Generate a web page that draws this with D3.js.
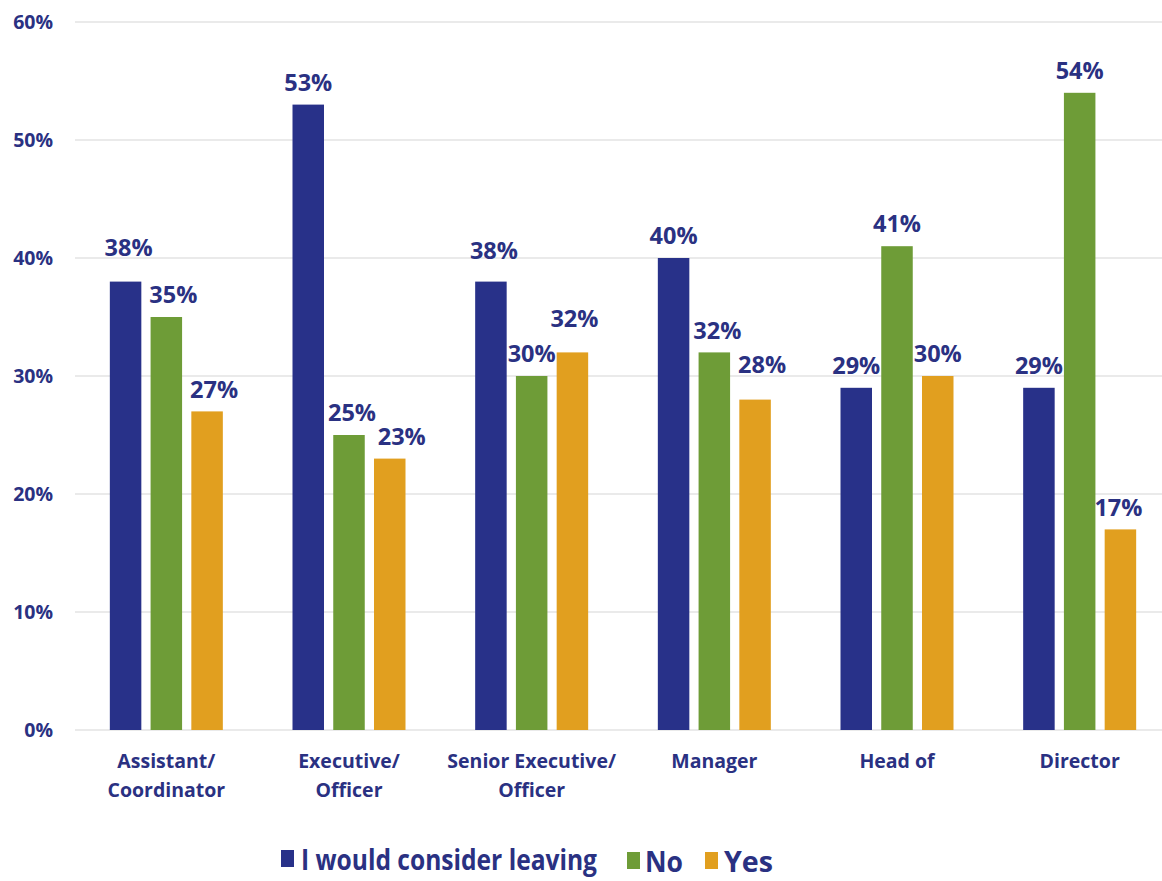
<!DOCTYPE html>
<html>
<head>
<meta charset="utf-8">
<script src="https://cdn.jsdelivr.net/npm/d3@7"></script>
<style>
  html, body { margin: 0; padding: 0; background: #ffffff; }
  svg { display: block; font-family: "Open Sans", "Noto Sans", sans-serif; }
</style>
</head>
<body>
<svg id="chart" width="1162" height="881"></svg>
<script>
// ---- data ----
const categories = ["Assistant/\nCoordinator", "Executive/\nOfficer", "Senior Executive/\nOfficer", "Manager", "Head of", "Director"];
const seriesNames = ["I would consider leaving", "No", "Yes"];
const considerLeaving = [0.38, 0.53, 0.38, 0.40, 0.29, 0.29];
const noValues        = [0.35, 0.25, 0.30, 0.32, 0.41, 0.54];
const yesValues       = [0.27, 0.23, 0.32, 0.28, 0.30, 0.17];
const yTicks = [0, 0.1, 0.2, 0.3, 0.4, 0.5, 0.6];
const yTickLabels = ["0%", "10%", "20%", "30%", "40%", "50%", "60%"];

// ---- style / layout ----
const colors = ["#283189", "#6e9c37", "#e19f1f"];
const textColor = "#2a3182";
const gridColor = "#e3e3e3";
const seriesValues = [considerLeaving, noValues, yesValues];

// label nudges (layout only): [categoryIndex, seriesIndex, dx, dy]
const labelNudges = [
  [0, 0, 3, -12], [0, 1, 7, 0], [0, 2, 7, 0],
  [1, 1, 3, 0], [1, 2, 12, 0],
  [2, 0, 3, -9], [2, 2, 2, -12],
  [3, 1, 3, 0], [3, 2, 7, -13],
  [5, 2, -2, 0]
];

const svg = d3.select("#chart");

const x0 = d3.scaleBand().domain(d3.range(categories.length)).range([75, 1171]).paddingInner(0).paddingOuter(0);
const groupW = 113;
const x1 = d3.scaleBand().domain(d3.range(seriesNames.length))
  .range([(x0.bandwidth() - groupW) / 2, (x0.bandwidth() + groupW) / 2])
  .paddingInner(0.227).paddingOuter(0);
const y = d3.scaleLinear().domain([0, 0.6]).range([730, 22]);

// gridlines
svg.append("g").selectAll("line").data(yTicks).join("line")
  .attr("x1", 75).attr("x2", 1162)
  .attr("y1", d => y(d)).attr("y2", d => y(d))
  .attr("stroke", gridColor).attr("stroke-width", 1.5);

// y axis labels
svg.append("g").selectAll("text").data(yTicks).join("text")
  .attr("x", 53).attr("y", d => y(d)).attr("dy", "0.35em")
  .attr("text-anchor", "end")
  .attr("font-size", 19.5).attr("font-weight", 700)
  .attr("fill", textColor)
  .text((d, i) => yTickLabels[i]);

// bars
const rows = [];
categories.forEach((c, ci) => {
  seriesNames.forEach((s, si) => {
    rows.push({ ci, si, v: seriesValues[si][ci] });
  });
});

svg.append("g").selectAll("rect").data(rows).join("rect")
  .attr("x", d => x0(d.ci) + x1(d.si))
  .attr("width", x1.bandwidth())
  .attr("y", d => y(d.v))
  .attr("height", d => y(0) - y(d.v))
  .attr("fill", d => colors[d.si]);

// value labels
const nudge = (ci, si) => {
  const n = labelNudges.find(a => a[0] === ci && a[1] === si);
  return n ? { dx: n[2], dy: n[3] } : { dx: 0, dy: 0 };
};
svg.append("g").selectAll("text").data(rows).join("text")
  .attr("x", d => x0(d.ci) + x1(d.si) + x1.bandwidth() / 2 + nudge(d.ci, d.si).dx)
  .attr("y", d => y(d.v) - 22 + nudge(d.ci, d.si).dy)
  .attr("dy", "0.35em")
  .attr("text-anchor", "middle")
  .attr("font-size", 23.5).attr("font-weight", 700)
  .attr("fill", textColor)
  .text(d => Math.round(d.v * 100) + "%");

// category labels
const catG = svg.append("g");
categories.forEach((c, ci) => {
  const t = catG.append("text")
    .attr("x", x0(ci) + x0.bandwidth() / 2)
    .attr("y", 768)
    .attr("text-anchor", "middle")
    .attr("font-size", 19.5).attr("font-weight", 700)
    .attr("fill", textColor);
  c.split("\n").forEach((line, li) => {
    t.append("tspan").attr("x", x0(ci) + x0.bandwidth() / 2)
      .attr("dy", li === 0 ? 0 : 29).text(line);
  });
});

// legend (horizontally condensed as in the reference)
const legendItems = [
  { sq: 281, tx: 301, tw: 296, base: 870 },
  { sq: 627, tx: 645, tw: 38, base: 872 },
  { sq: 705, tx: 724, tw: 49, base: 872 }
];
const lg = svg.append("g");
seriesNames.forEach((s, i) => {
  const it = legendItems[i];
  lg.append("rect").attr("x", it.sq).attr("y", it.base - 20).attr("width", 13).attr("height", 17)
    .attr("fill", colors[i]);
  lg.append("text").attr("x", it.tx).attr("y", it.base)
    .attr("font-size", 28).attr("font-weight", 700)
    .attr("fill", textColor)
    .attr("textLength", it.tw).attr("lengthAdjust", "spacingAndGlyphs")
    .text(s);
});
</script>
</body>
</html>
